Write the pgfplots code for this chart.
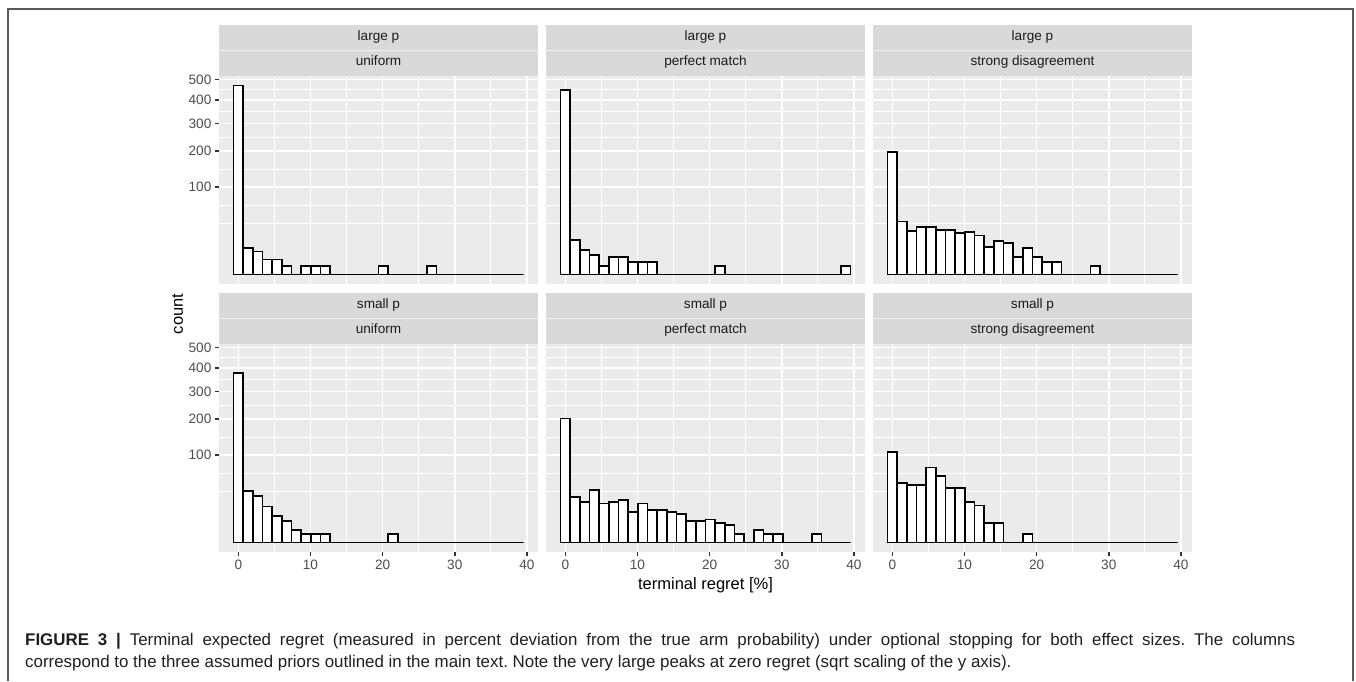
\documentclass[border=0pt]{standalone}
\usepackage{fontspec}
\setmainfont{Liberation Sans}
\usepackage{pgfplots}
\usepackage{pgfplotstable}
\pgfplotsset{compat=1.18}
\frenchspacing

\definecolor{panelbg}{HTML}{EBEBEB}
\definecolor{stripbg}{HTML}{D9D9D9}
\definecolor{tickgray}{HTML}{333333}
\definecolor{labgray}{HTML}{4D4D4D}
\definecolor{stripfg}{HTML}{1A1A1A}
\definecolor{framegray}{HTML}{5A5A5A}

% bin centres (binwidth 1.34) and counts per panel
\pgfplotstableread{
x     lpU lpP lpS spU spP spS
0.00  469 449 197 379 202 108
1.34  9   16  37  35  27  47
2.68  7   8   25  28  22  43
4.02  3   5   30  17  36  43
5.36  3   1   30  9   20  74
6.70  1   4   26  6   22  58
8.04  0   4   26  2   24  39
9.38  1   2   23  1   12  39
10.72 1   2   24  1   20  22
12.06 1   2   20  1   14  18
13.40 0   0   10  0   14  5
14.74 0   0   15  0   12  5
16.08 0   0   13  0   11  0
17.42 0   0   4   0   6   0
18.76 0   0   9   0   6   1
20.10 1   0   4   0   7   0
21.44 0   1   2   1   5   0
22.78 0   0   2   0   4   0
24.12 0   0   0   0   1   0
25.46 0   0   0   0   0   0
26.80 1   0   0   0   2   0
28.14 0   0   1   0   1   0
29.48 0   0   0   0   1   0
30.82 0   0   0   0   0   0
32.16 0   0   0   0   0   0
33.50 0   0   0   0   0   0
34.84 0   0   0   0   1   0
36.18 0   0   0   0   0   0
37.52 0   0   0   0   0   0
38.86 0   1   0   0   0   0
}\hist

\pgfplotsset{
  panel/.style={
    scale only axis, width=319pt, height=208pt, anchor=south west,
    xmin=-2.68, xmax=41.54, ymin=-1.083, ymax=22.75,
    axis background/.style={fill=panelbg},
    axis line style={draw=none},
    xtick={0,10,20,30,40}, minor xtick={5,15,25,35},
    ytick={10,14.1421,17.3205,20,22.3607},
    minor ytick={5.86,7.93,12.07,15.73,18.66,21.18},
    grid=both,
    major grid style={white, line width=1.6pt},
    minor grid style={white, line width=0.8pt},
    tick align=outside, xtick pos=bottom, ytick pos=left,
    major tick length=4.1pt, minor tick length=0pt,
    xtick style={draw=none}, ytick style={draw=none},
    xticklabels={}, yticklabels={},
    ticklabel style={font=\fontsize{13.6}{15}\selectfont, text=labgray},
    /pgf/number format/assume math mode=true,
  },
  leftcol/.style={yticklabels={100,200,300,400,500},
    ytick style={draw=tickgray, line width=1.6pt}},
  bottomrow/.style={xticklabels={0,10,20,30,40},
    xtick style={draw=tickgray, line width=1.6pt}},
  bars/.style={ybar, bar width=1.34, fill=white, draw=black, line width=1.8pt},
}

\begin{document}
\begin{tikzpicture}
\path[use as bounding box] (0,0) rectangle (1356pt,681pt);

% top row: large p
\begin{axis}[panel, leftcol, at={(219pt,397pt)}]
\addplot[bars] table[x=x, y expr=sqrt(\thisrow{lpU})] {\hist};
\end{axis}
\begin{axis}[panel, at={(546pt,397pt)}]
\addplot[bars] table[x=x, y expr=sqrt(\thisrow{lpP})] {\hist};
\end{axis}
\begin{axis}[panel, at={(873pt,397pt)}]
\addplot[bars] table[x=x, y expr=sqrt(\thisrow{lpS})] {\hist};
\end{axis}

% bottom row: small p
\begin{axis}[panel, leftcol, bottomrow, at={(219pt,129pt)}]
\addplot[bars] table[x=x, y expr=sqrt(\thisrow{spU})] {\hist};
\end{axis}
\begin{axis}[panel, bottomrow, at={(546pt,129pt)}]
\addplot[bars] table[x=x, y expr=sqrt(\thisrow{spP})] {\hist};
\end{axis}
\begin{axis}[panel, bottomrow, at={(873pt,129pt)}]
\addplot[bars] table[x=x, y expr=sqrt(\thisrow{spS})] {\hist};
\end{axis}

% facet strips
\foreach \x/\lab in {219/uniform, 546/perfect match, 873/strong disagreement} {
  \foreach \y/\eff in {605/large p, 337/small p} {
    \fill[stripbg] (\x pt,\y pt) rectangle ++(319pt,51pt);
    \draw[white!60!stripbg, line width=0.8pt] (\x pt,\y pt+25.5pt) -- ++(319pt,0);
    \node[anchor=mid, text=stripfg, font=\fontsize{13.6}{15}\selectfont]
      at (\x pt+159.5pt,\y pt+38.25pt) {\eff};
    \node[anchor=mid, text=stripfg, font=\fontsize{13.6}{15}\selectfont]
      at (\x pt+159.5pt,\y pt+12.75pt) {\lab};
  }
}

% axis titles
\node[rotate=90, font=\fontsize{16.5}{19}\selectfont] at (177.5pt,367pt) {count};
\node[anchor=base, font=\fontsize{16.5}{19}\selectfont] at (705.5pt,92pt) {terminal regret [\%]};

% figure frame and caption (first line justified)
\draw[framegray, line width=1.5pt] (8pt,0pt) -- (8pt,672pt) -- (1353pt,672pt) -- (1353pt,0pt);
\node[anchor=base west, inner sep=0pt, text=black!88, font=\fontsize{16.9}{20}\selectfont] at (25pt,36pt)
  {\makebox[1270pt][s]{\textbf{FIGURE 3 |} Terminal expected regret (measured in percent deviation from the true arm probability) under optional stopping for both effect sizes. The columns}};
\node[anchor=base west, inner sep=0pt, text=black!88, font=\fontsize{16.9}{20}\selectfont] at (25pt,14pt)
  {correspond to the three assumed priors outlined in the main text. Note the very large peaks at zero regret (sqrt scaling of the y axis).};
\end{tikzpicture}
\end{document}
